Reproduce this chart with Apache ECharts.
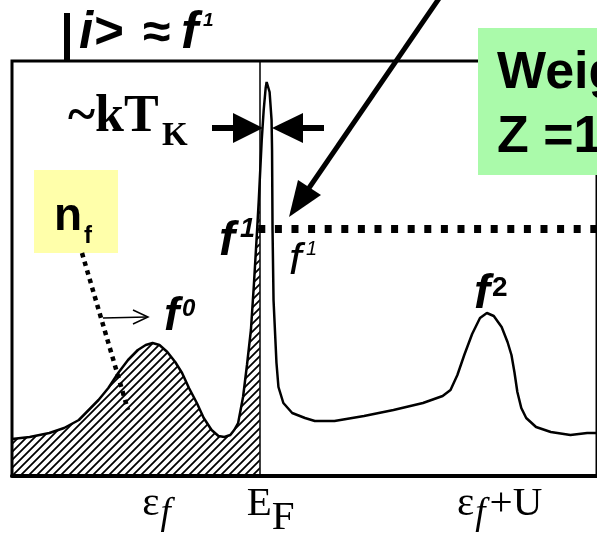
<!DOCTYPE html>
<html><head><meta charset="utf-8">
<script src="https://cdn.jsdelivr.net/npm/echarts@6/dist/echarts.min.js"></script>
<style>html,body{margin:0;padding:0;background:#fff}#c{width:597px;height:539px}</style>
</head><body><div id="c"></div>
<script>
// Energy (arbitrary units, E_F = 0) and spectral weight
const energy = [-25.2,-23.4,-21.4,-19.9,-18.4,-16.4,-15.4,-14.4,-13.4,-12.4,-11.6,-10.9,-10.2,-9.4,-8.6,-7.9,-7.2,-6.4,-5.7,-4.9,-4.2,-3.6,-3.0,-2.6,-2.2,-1.7,-1.3,-0.9,-0.6,-0.3,-0.1,0.0,0.2,0.4,0.6,0.7,0.8,1.0,1.2,1.25,1.3,1.4,1.7,1.9,2.4,3.3,4.6,5.6,7.6,10.6,13.6,16.6,18.6,19.4,20.1,20.8,21.6,22.4,23.1,23.8,24.6,25.2,25.6,25.9,26.2,26.6,27.1,28.1,29.6,31.6,33.3,34.3];
const spectral = [3.7,3.9,4.3,4.8,5.6,7.6,8.8,10.3,11.6,12.6,13.1,13.3,13.1,12.4,11.4,10.3,8.8,7.3,5.8,4.6,4.0,3.9,4.1,4.6,5.3,7.9,11.1,14.6,19.1,24.1,27.6,29.6,33.6,36.6,38.8,39.4,39.3,38.4,35.6,32.6,24.6,17.6,11.3,8.9,7.3,6.3,5.8,5.5,5.5,6.0,6.6,7.3,8.0,8.6,10.1,12.1,14.2,15.8,16.3,16.0,14.9,13.4,12.1,10.4,8.4,6.8,5.8,4.9,4.4,4.1,4.3,4.3];
const fermiEnergy = 0;
const f1Level = 24.7;
const tickPositions = [-10.3, 1.1, 24.4];
const tickParts = [['ε','f',''], ['E','F',''], ['ε','f','+U']];
const tickSubItalic = [true, false, true];

const points = energy.map((e,i)=>[e, spectral[i]]);
const occupied = points.filter(p => p[0] <= fermiEnergy);

// hatch pattern
const hc = document.createElement('canvas');
hc.width = 8; hc.height = 8;
const hx = hc.getContext('2d');
hx.strokeStyle = '#000'; hx.lineWidth = 1.8;
hx.beginPath();
hx.moveTo(-1,9); hx.lineTo(9,-1);
hx.moveTo(-5,5); hx.lineTo(5,-5);
hx.moveTo(3,13); hx.lineTo(13,3);
hx.stroke();

const SANS = '"Liberation Sans", Arial, sans-serif';
const SERIF = '"Liberation Serif", "Times New Roman", serif';
function txt(text, x, baseline, size, opts) {
  opts = opts || {};
  const k = opts.serif ? 0.305 : 0.31;
  return {type:'text', z:100, style:{text, x, y: baseline - k*size, verticalAlign:'middle', textAlign: opts.align||'left',
    font: (opts.style||'') + ' ' + (opts.weight||'normal') + ' ' + size + 'px ' + (opts.serif?SERIF:SANS), fill:'#000'}};
}

const chart = echarts.init(document.getElementById('c'));
chart.setOption({
  animation:false,
  backgroundColor:'#fff',
  grid:{left:12, top:61, right:-10, bottom:63, show:true, borderColor:'#000', borderWidth:3, backgroundColor:'transparent'},
  xAxis:{type:'value', min:-25.2, max:34.3, splitLine:{show:false}, axisTick:{show:false},
    axisLine:{show:true, onZero:false, lineStyle:{color:'#000', width:4}},
    axisLabel:{show:true, customValues: tickPositions, margin:8,
      formatter:(v)=>{ const i = tickPositions.indexOf(v); if(i<0) return ''; const p = tickParts[i];
        return '{b|'+p[0]+'}{'+(tickSubItalic[i]?'s':'S')+'|'+p[1]+'}' + (p[2]?'{b|'+p[2]+'}':''); },
      rich:{
        b:{fontFamily:SERIF, fontSize:41, color:'#000', lineHeight:44, verticalAlign:'top'},
        s:{fontFamily:SERIF, fontSize:37, fontStyle:'italic', color:'#000', lineHeight:44, padding:[12,4,0,1], verticalAlign:'top'},
        S:{fontFamily:SERIF, fontSize:41, color:'#000', lineHeight:44, padding:[14,0,0,0], verticalAlign:'top'}
      }}},
  yAxis:{type:'value', min:0, max:41.5, show:true, axisLine:{show:false}, axisTick:{show:false}, axisLabel:{show:false}, splitLine:{show:false}},
  series:[
    {type:'line', data: occupied, showSymbol:false, silent:true, lineStyle:{width:0}, areaStyle:{color:{image:hc, repeat:'repeat'}, opacity:1}, z:2},
    {type:'line', data: points, showSymbol:false, silent:true, lineStyle:{color:'#000', width:2.5}, z:3,
      markLine:{silent:true, symbol:['none','none'], label:{show:false},
        data:[
          {xAxis: fermiEnergy, lineStyle:{color:'#000', width:1.5, type:'solid'}},
          [{coord:[-0.15, f1Level], lineStyle:{color:'#000', width:8, type:[7,9.6], cap:'butt'}}, {coord:[34.3, f1Level]}]
        ]}}
  ],
  graphic:[
    {type:'rect', shape:{x:64, y:13, width:6, height:49}, style:{fill:'#000'}, z:100},
    txt('i>', 79, 50, 51, {style:'italic', weight:'bold'}),
    txt('≈', 143, 50, 50, {weight:'bold'}),
    txt('f', 181, 50, 52, {style:'italic', weight:'bold'}),
    txt('1', 203, 27, 19, {style:'italic', weight:'bold'}),

    txt('~kT', 68, 133, 52, {serif:true, weight:'bold'}),
    txt('K', 162, 147, 33, {serif:true, weight:'bold'}),
    {type:'rect', shape:{x:212, y:125, width:23, height:6}, style:{fill:'#000'}, z:100},
    {type:'polygon', shape:{points:[[233,113],[263,128],[233,143]]}, style:{fill:'#000'}, z:100},
    {type:'polygon', shape:{points:[[303,113],[272,128],[303,143]]}, style:{fill:'#000'}, z:100},
    {type:'rect', shape:{x:301, y:125, width:23, height:6}, style:{fill:'#000'}, z:100},

    {type:'rect', shape:{x:34, y:170, width:84, height:83}, style:{fill:'#FFFFAA'}, z:90},
    txt('n', 54, 232, 46, {weight:'bold'}),
    txt('f', 84, 244, 24, {weight:'bold'}),
    {type:'line', shape:{x1:82, y1:253, x2:128, y2:410}, style:{stroke:'#000', lineWidth:4.5, lineDash:[4.5,4.5]}, z:100},

    {type:'line', shape:{x1:103, y1:318, x2:147, y2:317}, style:{stroke:'#000', lineWidth:1.5}, z:100},
    {type:'polyline', shape:{points:[[133,310],[148,317],[133,324]]}, style:{stroke:'#000', lineWidth:1.5, fill:null}, z:100},
    txt('f', 164, 332, 46, {style:'italic', weight:'bold'}),
    txt('0', 182, 317, 24, {style:'italic', weight:'bold'}),

    txt('f', 219, 257, 48, {style:'italic', weight:'bold'}),
    txt('1', 240, 238, 27, {style:'italic', weight:'bold'}),
    txt('f', 289, 275, 45, {style:'italic'}),
    txt('1', 306, 256, 20, {style:'italic'}),

    txt('f', 474, 310, 48, {style:'italic', weight:'bold'}),
    txt('2', 492, 297, 28, {weight:'bold'}),

    {type:'line', shape:{x1:440, y1:-3, x2:309, y2:188}, style:{stroke:'#000', lineWidth:5}, z:100},
    {type:'polygon', shape:{points:[[289,217],[298,180],[321,195]]}, style:{fill:'#000'}, z:100},

    {type:'rect', shape:{x:478, y:28, width:130, height:147}, style:{fill:'#AAFAAA'}, z:95},
    txt('Weig', 497, 90, 52, {weight:'bold'}),
    txt('Z =1', 497, 154, 52, {weight:'bold'})
  ]
});
</script></body></html>
